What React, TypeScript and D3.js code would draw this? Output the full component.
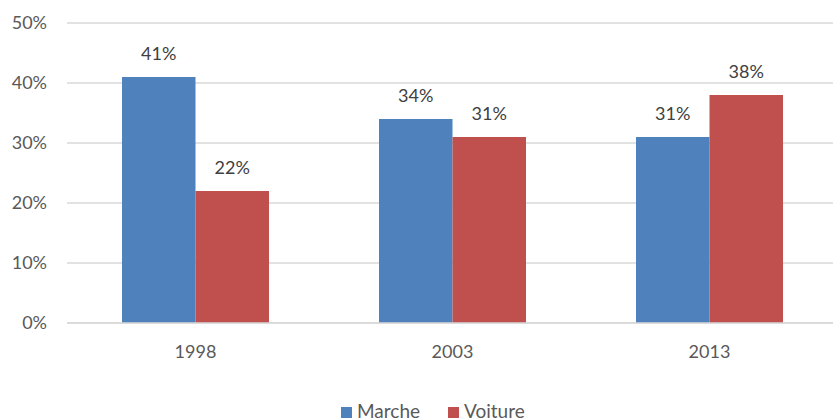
import React, { useRef, useEffect } from 'react';
import * as d3 from 'd3';

const years = ['1998', '2003', '2013'];
const seriesNames = ['Marche', 'Voiture'];
const marche = [0.41, 0.34, 0.31];
const voiture = [0.22, 0.31, 0.38];
const yTicks = [0, 0.1, 0.2, 0.3, 0.4, 0.5];
const colors = ['#4f81bd', '#c0504d'];

const App = () => {
  const ref = useRef<SVGSVGElement>(null);

  useEffect(() => {
    const width = 833;
    const height = 420;
    const margin = { top: 23, right: -5, bottom: 97, left: 67 };
    const innerW = width - margin.left - margin.right;
    const innerH = height - margin.top - margin.bottom;
    const font = 'Lato, Carlito, Calibri, sans-serif';

    const svg = d3.select(ref.current);
    svg.selectAll('*').remove();

    const g = svg.append('g').attr('transform', `translate(${margin.left},${margin.top})`);

    const x0 = d3.scaleBand().domain(years).range([0, innerW]).paddingInner(0.428).paddingOuter(0.214);
    const x1 = d3.scaleBand().domain(seriesNames).range([0, x0.bandwidth()]);
    const y = d3.scaleLinear().domain([0, 0.5]).range([innerH, 0]);

    // gridlines
    g.selectAll('line.grid')
      .data(yTicks)
      .enter()
      .append('line')
      .attr('class', 'grid')
      .attr('x1', 0)
      .attr('x2', innerW)
      .attr('y1', d => y(d))
      .attr('y2', d => y(d))
      .attr('stroke', '#d9d9d9')
      .attr('stroke-width', 1.3);

    // y tick labels
    g.selectAll('text.ytick')
      .data(yTicks)
      .enter()
      .append('text')
      .attr('class', 'ytick')
      .attr('x', -20)
      .attr('y', d => y(d) + 6)
      .attr('text-anchor', 'end')
      .attr('fill', '#595959')
      .attr('font-family', font)
      .attr('font-size', 18)
      .text(d => d3.format('.0%')(d));

    const data = years.map((yr, i) => ({ yr, vals: [marche[i], voiture[i]] }));

    const groups = g.selectAll('g.cat')
      .data(data)
      .enter()
      .append('g')
      .attr('class', 'cat')
      .attr('transform', d => `translate(${x0(d.yr)},0)`);

    const items = groups.selectAll('g.bar')
      .data(d => d.vals.map((v, j) => ({ key: seriesNames[j], v, j })))
      .enter()
      .append('g')
      .attr('class', 'bar');

    items.append('rect')
      .attr('x', d => x1(d.key)!)
      .attr('y', d => y(d.v))
      .attr('width', x1.bandwidth())
      .attr('height', d => innerH - y(d.v))
      .attr('fill', d => colors[d.j]);

    items.append('text')
      .attr('x', d => x1(d.key)! + x1.bandwidth() / 2)
      .attr('y', d => y(d.v) - 17)
      .attr('text-anchor', 'middle')
      .attr('fill', '#404040')
      .attr('font-family', font)
      .attr('font-size', 18)
      .text(d => d3.format('.0%')(d.v));

    // x axis line
    g.append('line')
      .attr('x1', 0)
      .attr('x2', innerW)
      .attr('y1', innerH)
      .attr('y2', innerH)
      .attr('stroke', '#d9d9d9')
      .attr('stroke-width', 1.3);

    g.selectAll('text.xtick')
      .data(years)
      .enter()
      .append('text')
      .attr('class', 'xtick')
      .attr('x', d => x0(d)! + x0.bandwidth() / 2)
      .attr('y', innerH + 35)
      .attr('text-anchor', 'middle')
      .attr('fill', '#595959')
      .attr('font-family', font)
      .attr('font-size', 18)
      .text(d => d);

    // legend
    const legend = svg.append('g').attr('transform', 'translate(341,407)');
    const legendX = [0, 107];
    seriesNames.forEach((name, i) => {
      const lg = legend.append('g').attr('transform', `translate(${legendX[i]},0)`);
      lg.append('rect').attr('width', 11).attr('height', 11).attr('fill', colors[i]);
      lg.append('text')
        .attr('x', 16)
        .attr('y', 11)
        .attr('fill', '#595959')
        .attr('font-family', font)
        .attr('font-size', 19)
        .text(name);
    });
  }, []);

  return (
    <svg
      ref={ref}
      width={833}
      height={420}
      style={{ position: 'absolute', left: 0, top: 0, background: '#fff' }}
    />
  );
};

export default App;
